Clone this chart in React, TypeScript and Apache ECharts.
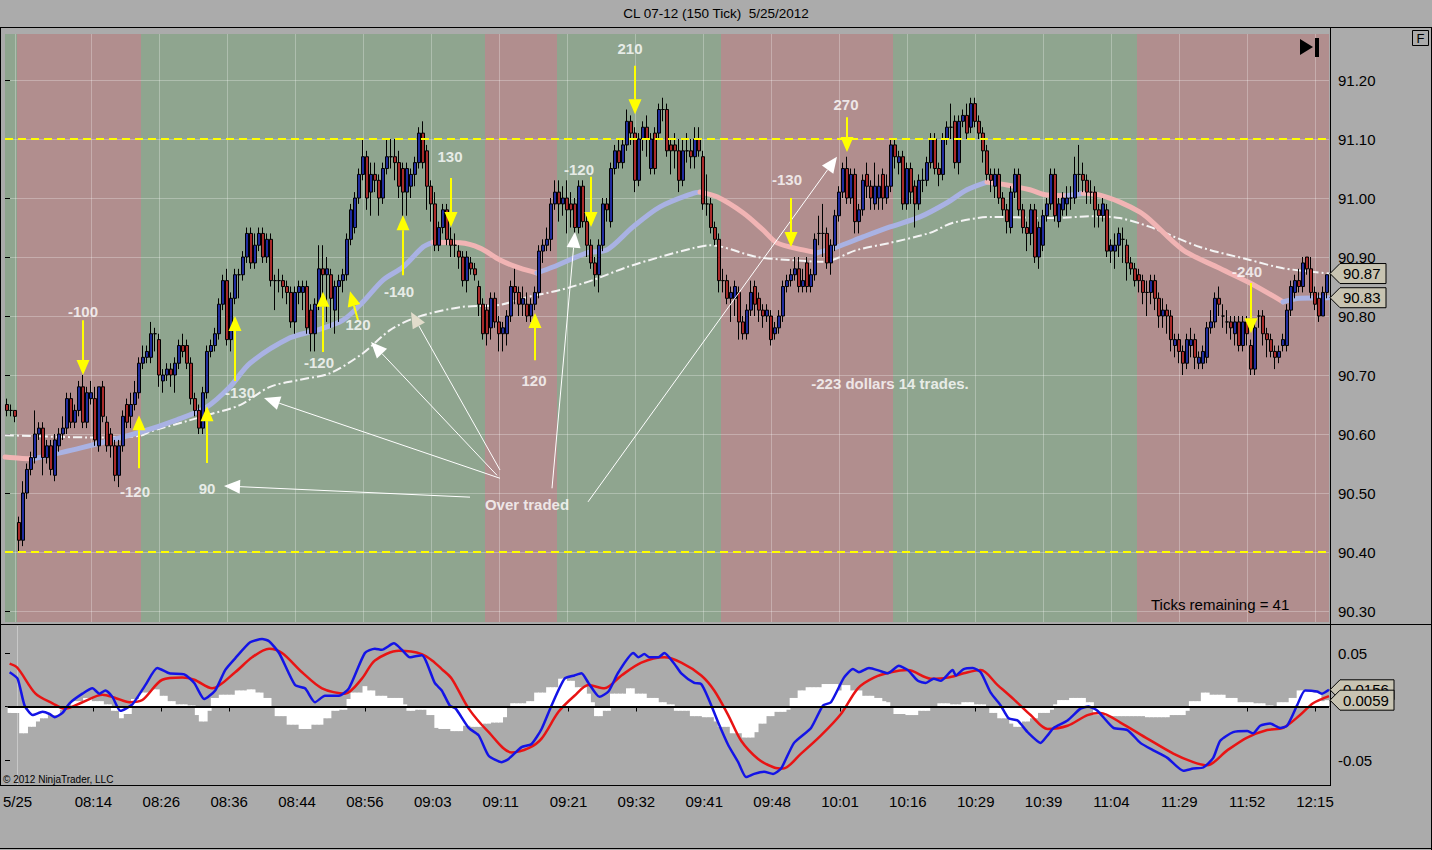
import React, { useEffect, useRef } from 'react';
import * as echarts from 'echarts';

const FONT = 'Arial, "Liberation Sans", Helvetica, sans-serif';

// [open, close, low, high] per 150-tick bar
const ohlc: number[][] = [
  [90.65,90.64,90.63,90.66],[90.64,90.64,90.63,90.65],[90.64,90.63,90.62,90.64],[90.45,90.42,90.40,90.46],[90.42,90.50,90.41,90.52],
  [90.50,90.54,90.49,90.55],[90.54,90.56,90.53,90.57],[90.56,90.60,90.55,90.64],[90.60,90.61,90.59,90.62],[90.61,90.56,90.53,90.62],
  [90.56,90.58,90.55,90.59],[90.58,90.54,90.53,90.59],[90.53,90.59,90.52,90.60],[90.58,90.60,90.57,90.61],[90.60,90.61,90.59,90.63],
  [90.61,90.66,90.60,90.67],[90.66,90.62,90.61,90.67],[90.62,90.64,90.61,90.65],[90.64,90.68,90.63,90.69],[90.68,90.62,90.61,90.70],
  [90.62,90.67,90.61,90.68],[90.66,90.67,90.65,90.69],[90.66,90.59,90.58,90.68],[90.58,90.68,90.57,90.68],[90.68,90.63,90.62,90.69],
  [90.62,90.58,90.57,90.63],[90.60,90.58,90.56,90.61],[90.58,90.53,90.52,90.59],[90.53,90.58,90.51,90.59],[90.58,90.63,90.57,90.64],
  [90.65,90.62,90.61,90.66],[90.63,90.65,90.61,90.67],[90.65,90.67,90.64,90.69],[90.67,90.72,90.66,90.73],[90.72,90.73,90.71,90.75],
  [90.73,90.74,90.72,90.75],[90.73,90.77,90.72,90.79],[90.77,90.77,90.74,90.78],[90.76,90.70,90.68,90.77],[90.69,90.70,90.67,90.71],
  [90.70,90.71,90.69,90.72],[90.71,90.70,90.68,90.72],[90.70,90.72,90.67,90.73],[90.72,90.75,90.71,90.76],[90.75,90.74,90.73,90.77],
  [90.75,90.72,90.71,90.76],[90.72,90.66,90.65,90.73],[90.66,90.64,90.63,90.67],[90.64,90.61,90.60,90.65],[90.61,90.67,90.60,90.68],
  [90.67,90.74,90.66,90.75],[90.74,90.75,90.73,90.76],[90.75,90.77,90.74,90.78],[90.77,90.82,90.76,90.83],[90.82,90.86,90.81,90.87],
  [90.86,90.76,90.75,90.88],[90.76,90.83,90.74,90.84],[90.83,90.87,90.82,90.88],[90.87,90.87,90.83,90.88],[90.87,90.90,90.86,90.91],
  [90.90,90.94,90.89,90.95],[90.94,90.89,90.88,90.95],[90.89,90.92,90.88,90.94],[90.92,90.94,90.91,90.95],[90.94,90.90,90.89,90.95],
  [90.90,90.93,90.89,90.94],[90.93,90.86,90.85,90.94],[90.86,90.86,90.81,90.87],[90.86,90.86,90.84,90.88],[90.86,90.85,90.83,90.87],
  [90.85,90.84,90.82,90.86],[90.84,90.79,90.78,90.85],[90.79,90.84,90.77,90.85],[90.84,90.85,90.82,90.86],[90.84,90.85,90.81,90.86],
  [90.85,90.78,90.77,90.86],[90.81,90.77,90.74,90.82],[90.77,90.82,90.74,90.83],[90.82,90.88,90.81,90.92],[90.88,90.87,90.82,90.92],
  [90.87,90.88,90.79,90.90],[90.87,90.83,90.78,90.88],[90.81,90.85,90.77,90.86],[90.85,90.86,90.79,90.87],[90.86,90.87,90.84,90.88],
  [90.87,90.93,90.86,90.94],[90.93,90.98,90.92,90.99],[90.95,91.00,90.94,91.01],[91.00,91.04,90.99,91.05],[91.04,91.07,91.03,91.10],
  [91.07,91.00,90.98,91.08],[91.01,91.04,90.97,91.06],[91.04,91.03,91.01,91.06],[91.03,91.00,90.97,91.04],[91.00,91.05,90.99,91.06],
  [91.05,91.07,91.04,91.10],[91.07,91.07,91.05,91.10],[91.07,91.06,91.03,91.10],[91.06,91.02,91.00,91.08],[91.05,91.01,90.97,91.06],
  [91.01,91.05,90.97,91.06],[91.02,91.04,91.00,91.05],[91.04,91.06,91.02,91.07],[91.06,91.11,91.05,91.12],[91.11,91.06,91.05,91.13],
  [91.08,91.02,90.98,91.09],[91.02,90.99,90.96,91.03],[90.99,90.92,90.91,91.01],[90.92,90.95,90.91,90.96],[90.95,90.98,90.94,90.99],
  [90.98,90.93,90.92,90.99],[90.93,90.92,90.90,90.95],[90.92,90.92,90.90,90.94],[90.91,90.90,90.88,90.92],[90.90,90.86,90.85,90.91],
  [90.86,90.90,90.84,90.91],[90.89,90.88,90.87,90.90],[90.88,90.87,90.86,90.89],[90.85,90.82,90.80,90.86],[90.82,90.77,90.76,90.83],
  [90.81,90.77,90.75,90.82],[90.78,90.83,90.76,90.84],[90.83,90.79,90.78,90.84],[90.79,90.77,90.74,90.80],[90.77,90.78,90.74,90.79],
  [90.77,90.80,90.75,90.81],[90.80,90.85,90.79,90.86],[90.85,90.84,90.82,90.88],[90.84,90.82,90.80,90.85],[90.82,90.83,90.80,90.85],
  [90.82,90.80,90.79,90.84],[90.80,90.82,90.79,90.83],[90.82,90.84,90.81,90.85],[90.84,90.91,90.83,90.92],[90.91,90.92,90.89,90.93],
  [90.92,90.93,90.91,90.95],[90.93,90.99,90.91,91.00],[90.99,91.01,90.98,91.03],[91.01,90.99,90.96,91.03],[90.99,91.00,90.97,91.02],
  [91.00,90.98,90.94,91.03],[90.99,90.98,90.95,91.01],[90.99,90.95,90.93,91.00],[90.95,91.02,90.94,91.03],[91.02,90.96,90.95,91.03],
  [90.96,90.92,90.90,90.97],[90.92,90.89,90.88,90.93],[90.89,90.87,90.85,90.90],[90.87,90.92,90.84,90.93],[90.92,90.99,90.91,91.00],
  [90.99,90.98,90.96,91.00],[90.96,91.05,90.95,91.06],[91.05,91.08,91.04,91.09],[91.08,91.06,91.05,91.10],[91.06,91.09,91.05,91.10],
  [91.09,91.13,91.08,91.15],[91.13,91.11,91.09,91.14],[91.11,91.03,91.01,91.12],[91.03,91.10,91.02,91.11],[91.10,91.12,91.08,91.13],
  [91.12,91.10,91.07,91.14],[91.05,91.10,91.04,91.11],[91.11,91.05,91.04,91.12],[91.11,91.15,91.10,91.16],[91.15,91.15,91.13,91.17],
  [91.15,91.08,91.07,91.16],[91.09,91.08,91.04,91.10],[91.09,91.08,91.05,91.11],[91.08,91.03,91.01,91.10],[91.03,91.08,91.02,91.10],
  [91.08,91.08,91.06,91.11],[91.08,91.07,91.05,91.10],[91.07,91.10,91.05,91.12],[91.10,91.08,91.07,91.12],[91.07,90.99,90.98,91.08],
  [90.99,90.99,90.97,91.04],[90.99,90.95,90.94,91.00],[90.95,90.93,90.92,90.96],[90.93,90.86,90.84,90.94],[90.86,90.86,90.84,90.88],
  [90.86,90.83,90.82,90.87],[90.83,90.84,90.79,90.85],[90.83,90.85,90.80,90.86],[90.84,90.79,90.76,90.85],[90.79,90.77,90.76,90.80],
  [90.77,90.81,90.76,90.82],[90.81,90.84,90.80,90.86],[90.85,90.82,90.80,90.86],[90.83,90.81,90.79,90.84],[90.81,90.80,90.78,90.82],
  [90.80,90.81,90.79,90.82],[90.80,90.76,90.75,90.81],[90.77,90.78,90.76,90.79],[90.78,90.80,90.77,90.81],[90.80,90.85,90.79,90.86],
  [90.85,90.86,90.84,90.87],[90.86,90.87,90.85,90.88],[90.87,90.88,90.86,90.90],[90.88,90.85,90.84,90.90],[90.85,90.86,90.84,90.88],
  [90.89,90.85,90.84,90.90],[90.85,90.87,90.84,90.88],[90.87,90.93,90.86,90.94],[90.94,90.94,90.92,90.97],[90.94,90.94,90.90,90.99],
  [90.94,90.89,90.88,90.95],[90.89,90.92,90.87,90.93],[90.92,90.97,90.91,90.98],[90.97,91.01,90.96,91.02],[91.01,91.05,91.00,91.06],
  [91.05,91.00,90.99,91.07],[91.00,91.04,90.99,91.05],[91.04,90.96,90.94,91.05],[90.96,90.98,90.94,90.99],[90.98,91.03,90.97,91.04],
  [91.04,91.02,91.00,91.06],[91.02,91.00,90.98,91.03],[90.99,91.02,90.98,91.06],[91.00,91.02,90.98,91.04],[91.04,91.00,90.98,91.05],
  [91.00,91.02,90.99,91.04],[91.02,91.09,91.01,91.10],[91.09,91.07,91.05,91.10],[91.06,91.07,91.04,91.08],[91.07,90.99,90.98,91.08],
  [90.99,91.05,90.98,91.06],[91.05,91.01,90.99,91.06],[91.02,90.99,90.95,91.03],[90.99,91.03,90.98,91.04],[91.03,91.03,91.01,91.05],
  [91.03,91.06,91.02,91.07],[91.06,91.10,91.05,91.11],[91.10,91.05,91.04,91.11],[91.05,91.04,91.02,91.06],[91.04,91.10,91.03,91.11],
  [91.10,91.12,91.09,91.13],[91.12,91.12,91.10,91.16],[91.13,91.06,91.05,91.14],[91.06,91.13,91.04,91.14],[91.13,91.14,91.12,91.15],
  [91.14,91.11,91.10,91.16],[91.12,91.16,91.11,91.17],[91.16,91.13,91.12,91.17],[91.13,91.11,91.10,91.14],[91.11,91.08,91.06,91.12],
  [91.08,91.04,91.03,91.09],[91.04,91.03,91.01,91.05],[91.02,91.04,91.00,91.05],[91.04,91.00,90.99,91.05],[91.00,90.98,90.97,91.01],
  [90.98,90.96,90.94,90.99],[90.95,91.01,90.94,91.02],[91.01,91.04,91.00,91.05],[91.04,90.98,90.97,91.05],[90.98,90.95,90.94,90.99],
  [90.95,90.94,90.91,90.96],[90.94,90.98,90.92,90.99],[90.98,90.90,90.89,90.99],[90.90,90.95,90.88,90.96],[90.92,90.97,90.91,90.98],
  [90.97,90.99,90.96,91.00],[90.99,91.04,90.98,91.05],[91.04,90.97,90.96,91.05],[90.96,90.99,90.95,91.00],[90.98,91.00,90.97,91.01],
  [90.99,91.00,90.97,91.02],[91.00,91.00,90.98,91.02],[91.00,91.04,90.99,91.07],[91.04,91.04,91.01,91.09],[91.04,91.03,91.01,91.06],
  [91.03,91.01,90.99,91.04],[91.01,91.01,90.99,91.03],[91.01,90.98,90.95,91.02],[90.98,90.97,90.95,90.99],[90.97,90.99,90.96,91.00],
  [90.98,90.91,90.90,90.99],[90.91,90.92,90.89,90.93],[90.91,90.92,90.88,90.94],[90.92,90.94,90.90,90.95],[90.93,90.93,90.89,90.95],
  [90.92,90.89,90.86,90.93],[90.89,90.88,90.87,90.90],[90.88,90.86,90.85,90.89],[90.87,90.86,90.84,90.88],[90.86,90.84,90.82,90.87],
  [90.84,90.84,90.80,90.86],[90.84,90.86,90.82,90.87],[90.86,90.83,90.81,90.87],[90.83,90.80,90.78,90.84],[90.80,90.81,90.78,90.83],
  [90.81,90.80,90.77,90.82],[90.80,90.76,90.74,90.81],[90.75,90.76,90.73,90.77],[90.76,90.74,90.72,90.77],[90.74,90.72,90.70,90.75],
  [90.72,90.76,90.71,90.77],[90.75,90.76,90.73,90.78],[90.76,90.73,90.71,90.77],[90.72,90.73,90.71,90.74],[90.72,90.74,90.71,90.75],
  [90.73,90.78,90.72,90.79],[90.78,90.79,90.77,90.81],[90.79,90.83,90.78,90.84],[90.83,90.82,90.80,90.85],[90.80,90.80,90.78,90.82],
  [90.79,90.79,90.77,90.81],[90.79,90.78,90.76,90.80],[90.77,90.79,90.75,90.80],[90.79,90.75,90.74,90.80],[90.75,90.79,90.74,90.80],
  [90.79,90.77,90.75,90.80],[90.75,90.71,90.70,90.76],[90.71,90.78,90.70,90.79],[90.80,90.80,90.78,90.81],[90.80,90.77,90.75,90.81],
  [90.77,90.76,90.73,90.78],[90.76,90.74,90.73,90.77],[90.74,90.73,90.71,90.75],[90.73,90.74,90.72,90.75],[90.75,90.76,90.74,90.77],
  [90.75,90.81,90.74,90.82],[90.81,90.85,90.80,90.86],[90.84,90.86,90.83,90.87],[90.86,90.85,90.84,90.88],[90.85,90.89,90.84,90.90],
  [90.90,90.88,90.87,90.90],[90.88,90.84,90.83,90.90],[90.84,90.82,90.81,90.85],[90.83,90.80,90.79,90.84],[90.80,90.84,90.80,90.85],
  [90.84,90.87,90.83,90.87],
];

const timeLabels = ['5/25','08:14','08:26','08:36','08:44','08:56','09:03','09:11','09:21','09:32','09:41','09:48','10:01','10:16','10:29','10:39','11:04','11:29','11:52','12:15'];
const timeLabelBars = [2,21,38,55,72,89,106,123,140,157,174,191,208,225,242,259,276,293,310,327];

// session shading: [fromBar, toBar, kind] kind 0 = red zone, 1 = green zone
const zones: [number, number, number][] = [
  [-0.5, 2.5, 1], [2.5, 33.5, 0], [33.5, 119.5, 1], [119.5, 137.5, 0],
  [137.5, 178.5, 1], [178.5, 221.5, 0], [221.5, 282.5, 1], [282.5, 330.5, 0],
];

const levelPrices = [91.10, 90.40];
const priceTicks = [90.3, 90.4, 90.5, 90.6, 90.7, 90.8, 90.9, 91.0, 91.1, 91.2];

// fast moving average, read at [bar, price]
const fastMA: number[][] = [
  [-0.5,90.561],[3.25,90.559],[6.5,90.558],[18.25,90.576],[33.25,90.603],[42.5,90.624],[50,90.646],[55.75,90.680],
  [60.75,90.720],[70.75,90.763],[77.5,90.776],[84,90.793],[89,90.824],[94,90.861],[99,90.883],[104,90.917],[106.5,90.925],
  [113.25,90.924],[118.25,90.915],[123.25,90.895],[128.25,90.881],[132.5,90.873],[136.5,90.883],[145,90.907],[150,90.912],
  [156.5,90.951],[163.25,90.985],[171.5,91.008],[173.25,91.010],[177.5,91.002],[184,90.975],[189,90.946],[192.5,90.924],
  [199,90.912],[202.5,90.907],[207.5,90.917],[214,90.934],[220.75,90.951],[228.25,90.968],[235,90.992],[240,91.014],
  [245,91.027],[250,91.022],[255.75,91.014],[260,91.005],[265,91.004],[269,91.008],[273.25,91.005],[278.25,90.993],
  [283.25,90.976],[285.75,90.963],[294,90.912],[302.5,90.883],[310.75,90.856],[319,90.824],[323.25,90.830],[330.5,90.831],
];

// slow moving average, read at [bar, price]
const slowMA: number[][] = [
  [-0.5,90.598],[23.25,90.594],[33.25,90.597],[35.75,90.604],[45,90.622],[50,90.632],[58.25,90.649],[65.75,90.680],
  [73.25,90.692],[80.75,90.703],[89,90.737],[95.75,90.776],[102.5,90.798],[113.25,90.815],[123.25,90.819],[130,90.832],
  [138.25,90.844],[146.5,90.861],[155,90.883],[163.25,90.900],[171.5,90.915],[175.75,90.920],[187.5,90.900],[195.75,90.895],
  [204,90.892],[212.5,90.912],[220.75,90.924],[230.75,90.941],[236.5,90.958],[246.5,90.968],[261.5,90.966],[271.5,90.969],
  [278.25,90.966],[285.75,90.951],[298.25,90.917],[310.75,90.895],[319,90.881],[330.5,90.872],
];

// MACD line (blue), read at [bar, value]
const macdLine: number[][] = [
  [0,0.032],[2,0.026],[3.75,0.001],[5.75,-0.008],[8.25,-0.005],[10,-0.007],[11.25,-0.010],[13.25,-0.006],[15,0.003],
  [18.25,0.012],[20.75,0.017],[22.5,0.012],[24,0.015],[25.75,0.009],[27.75,-0.004],[30.75,0.002],[34,0.020],[37,0.036],
  [40,0.031],[43.75,0.030],[46.25,0.022],[48.75,0.007],[51.5,0.015],[54,0.034],[56.5,0.045],[60.25,0.060],[63.25,0.063],
  [65,0.061],[67.5,0.050],[71.5,0.020],[74,0.017],[76.5,0.004],[79,0.010],[82.5,0.010],[85,0.017],[89,0.050],[91.5,0.054],
  [93.25,0.053],[96.25,0.059],[98.25,0.053],[100.25,0.046],[103.25,0.048],[106.5,0.022],[108.25,0.015],[110.25,0.001],
  [111.75,-0.002],[115,-0.020],[117.5,-0.027],[120,-0.046],[123.25,-0.052],[125,-0.049],[128.25,-0.038],[130.75,-0.035],
  [133.25,-0.021],[135.75,0.001],[139,0.026],[141.5,0.029],[143.25,0.031],[145,0.022],[147.75,0.009],[150,0.014],
  [152.5,0.032],[156.25,0.050],[157.5,0.046],[159,0.049],[160.25,0.046],[162.5,0.046],[164,0.050],[166.5,0.040],
  [168.25,0.031],[171.5,0.022],[173.25,0.021],[175,0.008],[177.5,-0.015],[180,-0.036],[182.5,-0.052],[184.5,-0.066],
  [186.5,-0.063],[189,-0.061],[191.25,-0.063],[193.25,-0.058],[196.5,-0.034],[200.75,-0.020],[203.75,0.001],[205.75,0.004],
  [209,0.027],[211.25,0.035],[212.75,0.032],[215.25,0.036],[218.25,0.033],[220,0.031],[222.75,0.038],[225,0.034],
  [227.5,0.024],[229.5,0.022],[231.5,0.026],[233.25,0.024],[236.25,0.034],[237,0.029],[239,0.035],[241.25,0.036],
  [243.25,0.032],[245.75,0.013],[248.25,0.001],[250.25,-0.011],[252.5,-0.013],[255,-0.024],[258.25,-0.034],[260,-0.027],
  [261.5,-0.020],[265,-0.013],[268.25,-0.002],[270.25,0.000],[272.5,-0.004],[276.5,-0.020],[280,-0.022],[283.25,-0.034],
  [286.5,-0.041],[290,-0.048],[294,-0.060],[296.5,-0.058],[299,-0.057],[301.5,-0.048],[303.25,-0.032],[306.5,-0.024],
  [310,-0.023],[311.5,-0.025],[313.25,-0.018],[315.75,-0.016],[318.25,-0.020],[320,-0.018],[322.5,0.001],[324.5,0.015],
  [327.5,0.014],[328.75,0.012],[330.5,0.0156],
];

// MACD average (red), read at [bar, value]
const signalLine: number[][] = [
  [0,0.040],[2,0.036],[6.5,0.012],[10.75,0.003],[13.75,-0.002],[18.25,0.004],[23.25,0.011],[26.5,0.008],[30,0.004],
  [33.25,0.006],[38.25,0.025],[43.25,0.027],[46.25,0.025],[50.75,0.017],[56.5,0.032],[60.75,0.046],[65,0.054],[68.25,0.050],
  [73.25,0.032],[78.25,0.017],[84,0.012],[88.25,0.026],[91.5,0.043],[97.5,0.052],[103.25,0.049],[106.5,0.041],[108.25,0.035],
  [110.75,0.026],[115,-0.002],[120,-0.024],[125.75,-0.043],[130,-0.039],[133.25,-0.030],[137.5,-0.005],[141.5,0.010],
  [145,0.020],[149,0.017],[153.25,0.029],[158.25,0.041],[164,0.046],[168.25,0.041],[173.25,0.029],[176.5,0.015],[180,-0.008],
  [183.25,-0.032],[187.5,-0.049],[191.5,-0.057],[193.75,-0.058],[198.25,-0.044],[203.25,-0.027],[208.25,-0.007],[212.5,0.017],
  [216.5,0.027],[220.75,0.032],[225,0.034],[230.75,0.026],[235,0.027],[239,0.031],[243.25,0.034],[247.5,0.020],[251.75,0.006],
  [255.75,-0.008],[260,-0.021],[265,-0.018],[270,-0.008],[273.25,-0.006],[278.25,-0.015],[285,-0.030],[291.5,-0.044],
  [296.5,-0.052],[300,-0.055],[305,-0.041],[310,-0.029],[315,-0.022],[319,-0.020],[323.25,-0.008],[326.5,0.003],[330.5,0.0097],
];

// MACD difference per bar, in thousandths
const histMilli: number[] = [
  -6,-6,-6,-25,-25,-19,-19,-14,-11,-11,
  -8,-8,-8,-3,0,0,5,5,5,8,
  8,5,5,5,2,2,-4,-4,-11,-7,
  -7,7,7,13,13,13,16,16,10,10,
  5,5,2,2,2,1,1,-8,-14,-14,
  -4,8,8,11,11,11,11,15,15,15,
  16,16,13,13,8,8,0,-9,-9,-9,
  -17,-17,-17,-21,-21,-21,-17,-17,-17,-11,
  -11,-4,-4,-3,-3,7,13,13,13,19,
  15,15,10,10,10,8,8,8,8,2,
  -4,-4,-3,-3,-3,-8,-8,-20,-21,-21,
  -21,-23,-23,-23,-18,-18,-19,-19,-19,-16,
  -16,-15,-15,-15,-10,0,3,3,3,3,
  5,5,13,13,13,18,18,18,26,26,
  24,24,18,18,18,12,4,-9,-9,-4,
  -4,12,12,12,12,17,17,12,12,12,
  8,8,8,4,4,2,2,-4,-4,-4,
  -4,-9,-9,-9,-10,-10,-10,-14,-19,-19,
  -19,-25,-25,-25,-29,-29,-29,-24,-16,-16,
  -9,-9,-5,-5,-5,-3,8,8,15,15,
  18,18,18,18,21,21,21,21,15,20,
  20,15,15,15,10,10,10,8,8,5,
  4,0,-7,-7,-7,-8,-8,-8,-4,-4,
  -4,-1,-1,3,3,3,2,2,2,4,
  4,4,2,2,2,0,-6,-6,-11,-11,
  -11,-16,-19,-19,-14,-14,-11,-11,-6,-6,
  -6,-3,2,6,6,6,8,8,8,8,
  4,4,-8,-8,-8,-9,-9,-9,-9,-9,
  -9,-9,-9,-9,-9,-10,-10,-10,-10,-10,
  -10,-8,-8,-8,-8,-4,5,5,5,13,
  13,11,11,11,11,8,8,8,4,4,
  4,4,3,3,3,1,1,0,4,4,
  4,8,8,15,15,15,15,13,13,5,
  5.9,
];

// trade arrows: [tailBar, tailPrice, tipBar, tipPrice]
const tradeArrows: number[][] = [
  [19,90.793,19,90.700],[33,90.542,33,90.632],[50,90.551,50,90.647],[57,90.690,57,90.800],
  [79,90.739,79,90.841],[87.75,90.793,85.75,90.842],[99,90.869,99,90.971],[111,91.034,111,90.951],
  [132,90.725,132,90.805],[146,91.036,146,90.951],[157,91.224,157,91.142],[196,91.000,196,90.917],
  [210,91.137,210,91.078],[311,90.856,311,90.771],
];

// "Over traded" pointers: [tailBar, tailPrice, tipBar, tipPrice, headKind]
const pointerArrows: number[][] = [
  [115.75,90.493,54.25,90.512,0],[123.25,90.525,64.25,90.661,0],[122.5,90.530,91,90.756,0],
  [123.25,90.539,101,90.807,1],[136.25,90.508,142,90.943,0],[145.25,90.485,207.5,91.070,0],
];

// notes: [text, bar, price]
const notes: [string, number, number][] = [
  ['-100',19,90.808],['-120',32,90.502],['90',50,90.507],['-130',58.25,90.671],['-120',78,90.722],
  ['120',87.75,90.785],['-140',98,90.841],['130',110.75,91.071],['120',131.75,90.690],['-120',143,91.049],
  ['210',155.75,91.254],['-130',195,91.032],['270',209.75,91.159],['-240',310,90.875],
  ['Over traded',130,90.481],['-223 dollars 14 trades.',220.75,90.685],
];

const macdTicks = [-0.05, 0, 0.05];

function splitByDirection(pts: number[][]) {
  const runs: { dir: number; pts: number[][] }[] = [];
  let cur = [pts[0]];
  let dir = 0;
  for (let k = 1; k < pts.length; k++) {
    const d = Math.sign(pts[k][1] - pts[k - 1][1]) || dir;
    if (dir !== 0 && d !== dir) {
      runs.push({ dir, pts: cur });
      cur = [pts[k - 1]];
    }
    dir = d;
    cur.push(pts[k]);
  }
  runs.push({ dir, pts: cur });
  return runs;
}

function arrowRenderer(color: (kind: number) => string, lineColor: string, lineWidth: number, L: number, W: number) {
  return (params: any, api: any) => {
    const a = api.coord([api.value(0), api.value(1)]);
    const b = api.coord([api.value(2), api.value(3)]);
    const dx = b[0] - a[0];
    const dy = b[1] - a[1];
    const len = Math.hypot(dx, dy) || 1;
    const ux = dx / len;
    const uy = dy / len;
    const bx = b[0] - ux * L;
    const by = b[1] - uy * L;
    const kind = api.value(4) || 0;
    return {
      type: 'group',
      children: [
        { type: 'line', shape: { x1: a[0], y1: a[1], x2: bx, y2: by }, style: { stroke: lineColor, lineWidth } },
        {
          type: 'polygon',
          shape: { points: [[b[0], b[1]], [bx - uy * W, by + ux * W], [bx + uy * W, by - ux * W]] },
          style: { fill: color(kind) },
        },
      ],
    };
  };
}

export default function App() {
  const ref = useRef<HTMLDivElement>(null);

  useEffect(() => {
    const el = ref.current;
    if (!el) return;
    const chart = echarts.init(el, null, { renderer: 'svg' });
    const N = ohlc.length;
    const cats = ohlc.map((_, i) => String(i));
    const labelAt = new Map<number, string>();
    timeLabelBars.forEach((b, k) => labelAt.set(b, timeLabels[k]));
    const isLabel = (idx: number) => labelAt.has(idx);

    const zoneColor = ['#b18e8e', '#8fa58f'];
    const rising = '#a9b2e3';
    const falling = '#f1b4b4';

    const maSeries = splitByDirection(fastMA).map((run) => ({
      type: 'line',
      xAxisIndex: 1,
      yAxisIndex: 0,
      data: run.pts,
      smooth: 0.3,
      showSymbol: false,
      silent: true,
      z: 2,
      lineStyle: { color: run.dir > 0 ? rising : falling, width: 5, cap: 'round' },
    }));

    const option: any = {
      animation: false,
      backgroundColor: '#ababab',
      textStyle: { fontFamily: FONT },
      grid: [
        { left: 5, top: 34, width: 1324, height: 588 },
        { left: 5, top: 626, width: 1324, height: 159 },
        { left: 5, top: 80, width: 1324, height: 531 },
        { left: 5, top: 653, width: 1324, height: 107 },
      ],
      xAxis: [
        {
          type: 'category', gridIndex: 0, data: cats, boundaryGap: true, z: 1,
          axisLine: { show: false }, axisTick: { show: false }, axisLabel: { show: false },
          splitLine: { show: true, interval: (i: number) => isLabel(i), alignWithLabel: true, lineStyle: { color: 'rgba(255,255,255,0.28)', width: 1 } },
        },
        { type: 'value', gridIndex: 0, min: -0.5, max: N - 0.5, show: false },
        {
          type: 'category', gridIndex: 1, data: cats, boundaryGap: true, z: 1,
          axisLine: { show: true, lineStyle: { color: '#000', width: 1 } },
          axisTick: { show: true, interval: (i: number) => isLabel(i), alignWithLabel: true, length: 5, lineStyle: { color: '#000' } },
          axisLabel: {
            show: true, interval: (i: number) => isLabel(i), margin: 9,
            formatter: (_v: string, i: number) => labelAt.get(i) || '',
            color: '#000', fontSize: 15, fontFamily: FONT,
          },
          splitLine: { show: true, interval: (i: number) => i === timeLabelBars[0], alignWithLabel: true, lineStyle: { color: 'rgba(255,255,255,0.35)' } },
        },
        { type: 'value', gridIndex: 1, min: -0.5, max: N - 0.5, show: false },
        { type: 'value', gridIndex: 2, min: 0, max: 1, show: false },
        { type: 'value', gridIndex: 3, min: 0, max: 1, show: false },
      ],
      yAxis: [
        { type: 'value', gridIndex: 0, min: 90.2814, max: 91.278, show: false, scale: true },
        { type: 'value', gridIndex: 1, min: -0.07336, max: 0.07523, show: false, scale: true },
        {
          type: 'value', gridIndex: 2, position: 'right', min: priceTicks[0], max: priceTicks[priceTicks.length - 1], interval: 0.1, z: 1,
          axisLine: { show: false },
          axisTick: { show: true, length: 5, lineStyle: { color: '#000' } },
          axisLabel: { show: true, margin: 9, color: '#000', fontSize: 15, fontFamily: FONT, formatter: (v: number) => v.toFixed(2) },
          splitLine: { show: true, lineStyle: { color: 'rgba(255,255,255,0.28)', width: 1 } },
        },
        {
          type: 'value', gridIndex: 3, position: 'right', min: macdTicks[0], max: macdTicks[2], interval: 0.05, z: 1,
          axisLine: { show: false },
          axisTick: { show: true, length: 5, lineStyle: { color: '#000' } },
          axisLabel: { show: true, margin: 9, color: '#000', fontSize: 15, fontFamily: FONT, formatter: (v: number) => (Math.abs(v) < 1e-9 ? '' : v.toFixed(2)) },
          splitLine: { show: false },
        },
      ],
      series: [
        {
          type: 'line', xAxisIndex: 1, yAxisIndex: 0, data: [[-0.5, 90.3]], showSymbol: false, silent: true,
          lineStyle: { opacity: 0 },
          markArea: {
            silent: true, z: 0,
            data: zones.map(([a, b, k]) => [{ xAxis: a, itemStyle: { color: zoneColor[k] } }, { xAxis: b }]),
          },
        },
        { type: 'line', xAxisIndex: 4, yAxisIndex: 2, data: [], silent: true },
        { type: 'line', xAxisIndex: 5, yAxisIndex: 3, data: [], silent: true },
        {
          type: 'line', xAxisIndex: 1, yAxisIndex: 0, data: slowMA, smooth: 0.3, showSymbol: false, silent: true, z: 2,
          lineStyle: { color: '#f4f4f4', width: 2, type: [9, 3, 2, 3] },
        },
        ...maSeries,
        {
          type: 'candlestick', xAxisIndex: 0, yAxisIndex: 0, data: ohlc, barWidth: 3, silent: true, z: 3,
          itemStyle: { color: '#1f2b9e', color0: '#a82a2a', borderColor: '#000', borderColor0: '#000', borderWidth: 1 },
          markLine: {
            silent: true, symbol: 'none', z: 4, label: { show: false },
            lineStyle: { color: '#ffff00', type: [8, 5], width: 2 },
            data: levelPrices.map((p) => ({ yAxis: p })),
          },
        },
        {
          type: 'bar', xAxisIndex: 2, yAxisIndex: 1, data: histMilli.map((v) => v / 1000), barWidth: 4.8, silent: true, z: 2,
          itemStyle: { color: '#ffffff' },
          markLine: {
            silent: true, symbol: 'none', label: { show: false },
            lineStyle: { color: '#000', type: 'solid', width: 2 },
            data: [{ yAxis: 0 }],
          },
        },
        {
          type: 'line', xAxisIndex: 3, yAxisIndex: 1, data: signalLine, smooth: 0.3, showSymbol: false, silent: true, z: 3,
          lineStyle: { color: '#e81414', width: 2.5 },
        },
        {
          type: 'line', xAxisIndex: 3, yAxisIndex: 1, data: macdLine, smooth: 0.2, showSymbol: false, silent: true, z: 4,
          lineStyle: { color: '#1414e6', width: 2.5 },
        },
        {
          type: 'custom', coordinateSystem: 'cartesian2d', xAxisIndex: 1, yAxisIndex: 0, data: pointerArrows, silent: true, clip: false, z: 10,
          renderItem: arrowRenderer((k) => (k === 1 ? '#e2dccb' : '#ffffff'), '#ffffff', 1, 16, 7),
        },
        {
          type: 'custom', coordinateSystem: 'cartesian2d', xAxisIndex: 1, yAxisIndex: 0, data: tradeArrows, silent: true, clip: false, z: 11,
          renderItem: arrowRenderer(() => '#ffff00', '#ffff00', 2, 15, 6.5),
        },
        {
          type: 'scatter', xAxisIndex: 1, yAxisIndex: 0, symbolSize: 0, silent: true, z: 12,
          data: notes.map(([t, b, p]) => ({ value: [b, p], label: { formatter: t } })),
          label: { show: true, position: 'inside', color: '#ffffff', fontSize: 15, fontWeight: 'bold', fontFamily: FONT },
        },
      ],
    };

    chart.setOption(option);

    const markers = [
      { v: slowMA[slowMA.length - 1][1], axis: 0, text: slowMA[slowMA.length - 1][1].toFixed(2), w: 56 },
      { v: fastMA[fastMA.length - 1][1], axis: 0, text: fastMA[fastMA.length - 1][1].toFixed(2), w: 56 },
      { v: macdLine[macdLine.length - 1][1], axis: 1, text: macdLine[macdLine.length - 1][1].toFixed(4), w: 64 },
      { v: histMilli[histMilli.length - 1] / 1000, axis: 1, text: (histMilli[histMilli.length - 1] / 1000).toFixed(4), w: 64 },
    ];
    const markerEls: any[] = [];
    markers.forEach((m, k) => {
      const cy = chart.convertToPixel({ yAxisIndex: m.axis } as any, m.v) as unknown as number;
      const x0 = 1330;
      markerEls.push({
        type: 'polygon', z: 100 + k * 2,
        shape: { points: [[x0, cy], [x0 + 10, cy - 10], [x0 + m.w, cy - 10], [x0 + m.w, cy + 10], [x0 + 10, cy + 10]] },
        style: { fill: '#c8c4b2', stroke: '#000', lineWidth: 1 },
      });
      markerEls.push({
        type: 'text', z: 101 + k * 2, x: x0 + 13, y: cy,
        style: { text: m.text, font: `15px ${FONT}`, fill: '#000', textVerticalAlign: 'middle', textAlign: 'left' },
      });
    });

    const line = (x1: number, y1: number, x2: number, y2: number) => ({
      type: 'line', z: 50, shape: { x1, y1, x2, y2 }, style: { stroke: '#000', lineWidth: 1 },
    });

    chart.setOption({
      graphic: {
        elements: [
          {
            type: 'text', z: 50, x: 716, y: 13,
            style: { text: 'CL 07-12 (150 Tick)  5/25/2012', font: `13.5px ${FONT}`, fill: '#000', textAlign: 'center', textVerticalAlign: 'middle' },
          },
          line(0, 27.5, 1432, 27.5),
          line(0, 624.5, 1432, 624.5),
          line(0.5, 27, 0.5, 785),
          line(1330.5, 27, 1330.5, 786),
          line(0, 785.5, 1330, 785.5),
          line(1431.5, 27, 1431.5, 850),
          line(0, 848.5, 1432, 848.5),
          { type: 'rect', z: 50, shape: { x: 1412.5, y: 30.5, width: 16, height: 15 }, style: { fill: 'none', stroke: '#000', lineWidth: 1 } },
          { type: 'text', z: 51, x: 1420.5, y: 38.5, style: { text: 'F', font: `13px ${FONT}`, fill: '#000', textAlign: 'center', textVerticalAlign: 'middle' } },
          { type: 'polygon', z: 50, shape: { points: [[1300, 39], [1313, 47], [1300, 55]] }, style: { fill: '#000' } },
          { type: 'rect', z: 50, shape: { x: 1315, y: 38, width: 4, height: 19 }, style: { fill: '#000' } },
          { type: 'text', z: 50, x: 3, y: 779, style: { text: '© 2012 NinjaTrader, LLC', font: `10px ${FONT}`, fill: '#000', textVerticalAlign: 'middle' } },
          { type: 'text', z: 50, x: 1151, y: 604, style: { text: 'Ticks remaining = 41', font: `15px ${FONT}`, fill: '#000', textVerticalAlign: 'middle' } },
          ...markerEls,
        ],
      },
    });

    return () => chart.dispose();
  }, []);

  return (
    <div
      ref={ref}
      style={{ position: 'fixed', left: 0, top: 0, width: 1432, height: 850, background: '#ababab' }}
    />
  );
}
